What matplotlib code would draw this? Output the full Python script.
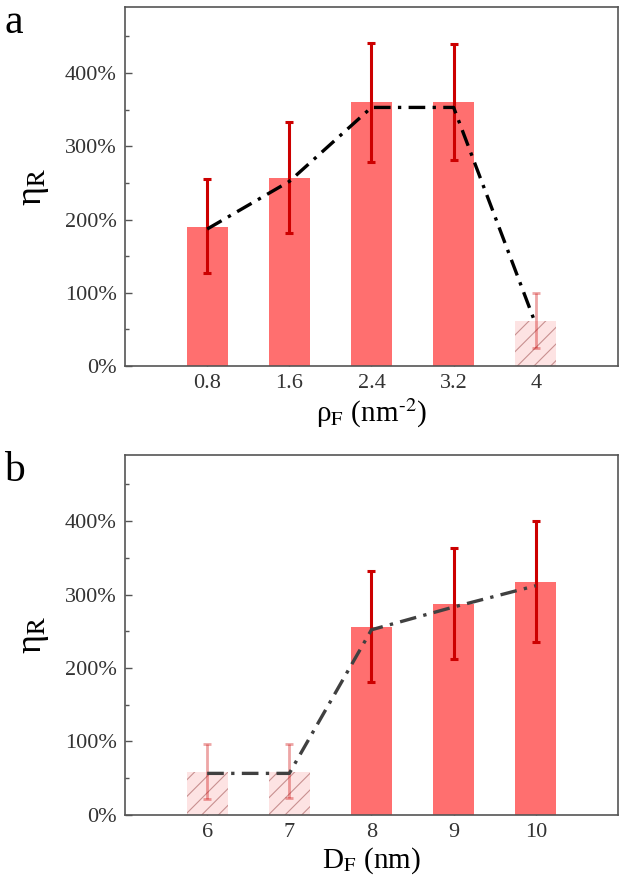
import matplotlib
matplotlib.use("Agg")
import matplotlib.pyplot as plt
from matplotlib.ticker import FuncFormatter, MultipleLocator
import numpy as np

plt.rcParams['font.family'] = ['Liberation Serif', 'DejaVu Serif']
plt.rcParams['mathtext.fontset'] = 'stix'
plt.rcParams['hatch.linewidth'] = 0.8

# panel a data
rho_labels = ["0.8", "1.6", "2.4", "3.2", "4"]
rho_eta = [1.90, 2.57, 3.60, 3.60, 0.61]
rho_err_hi = [2.55, 3.33, 4.41, 4.40, 1.00]
rho_err_lo = [1.27, 1.81, 2.78, 2.81, 0.24]
rho_trend = [1.87, 2.52, 3.53, 3.53, 0.57]
rho_faded = [False, False, False, False, True]

# panel b data
d_labels = ["6", "7", "8", "9", "10"]
d_eta = [0.585, 0.585, 2.56, 2.87, 3.17]
d_err_hi = [0.96, 0.96, 3.32, 3.63, 4.00]
d_err_lo = [0.21, 0.235, 1.81, 2.12, 2.36]
d_trend = [0.565, 0.565, 2.52, 2.83, 3.12]
d_faded = [True, True, False, False, False]

bar_col = "#FF6F6F"
err_col = "#CC0000"
spine_col = "#555555"


def draw_panel(ax, labels, eta, hi, lo, trend, faded, line_col, xlabel, tag):
    x = np.arange(len(labels))
    for i in range(len(x)):
        if faded[i]:
            ax.bar(x[i], eta[i], width=0.5, color="#FDE3E3", edgecolor="#C89090",
                   hatch="//", linewidth=0, zorder=2)
            ax.errorbar(x[i], eta[i], yerr=[[eta[i] - lo[i]], [hi[i] - eta[i]]],
                        fmt="none", ecolor=err_col, alpha=0.35, elinewidth=2,
                        capsize=3, capthick=2, zorder=3)
        else:
            ax.bar(x[i], eta[i], width=0.5, color=bar_col, linewidth=0, zorder=2)
            ax.errorbar(x[i], eta[i], yerr=[[eta[i] - lo[i]], [hi[i] - eta[i]]],
                        fmt="none", ecolor=err_col, elinewidth=2.2,
                        capsize=3, capthick=2.2, zorder=3)
    ax.plot(x, trend, color=line_col, lw=2.4, dashes=(5, 2.2, 1, 2.2), zorder=4)

    ax.set_xlim(-1, 5)
    ax.set_ylim(0, 4.9)
    ax.set_xticks(x)
    ax.set_xticklabels(labels)
    ax.yaxis.set_major_locator(MultipleLocator(1))
    ax.yaxis.set_minor_locator(MultipleLocator(0.5))
    ax.yaxis.set_major_formatter(FuncFormatter(lambda v, p: "%d%%" % round(v * 100)))
    ax.tick_params(direction="in", length=5, width=1, color=spine_col,
                   labelsize=16, labelcolor="#333333", pad=6)
    ax.tick_params(axis="y", which="minor", direction="in", length=3, width=1, color=spine_col)
    for s in ax.spines.values():
        s.set_color(spine_col)
        s.set_linewidth(1.2)
    ax.set_xlabel(xlabel, fontsize=21, labelpad=2)
    ax.set_ylabel("η$_\\mathrm{R}$", fontsize=26, labelpad=10)
    ax.text(-0.245, 1.01, tag, transform=ax.transAxes, fontsize=30, va="top", ha="left")


fig = plt.figure(figsize=(6.24, 8.8), dpi=100)
ax1 = fig.add_axes([0.2003, 0.584, 0.790, 0.408])
ax2 = fig.add_axes([0.2003, 0.074, 0.790, 0.409])

draw_panel(ax1, rho_labels, rho_eta, rho_err_hi, rho_err_lo, rho_trend, rho_faded,
           "black", "ρ$_\\mathrm{F}$ (nm$^{\\text{-}2}$)", "a")
draw_panel(ax2, d_labels, d_eta, d_err_hi, d_err_lo, d_trend, d_faded,
           "#404040", "D$_\\mathrm{F}$ (nm)", "b")

fig.savefig("out.png", dpi=100)
